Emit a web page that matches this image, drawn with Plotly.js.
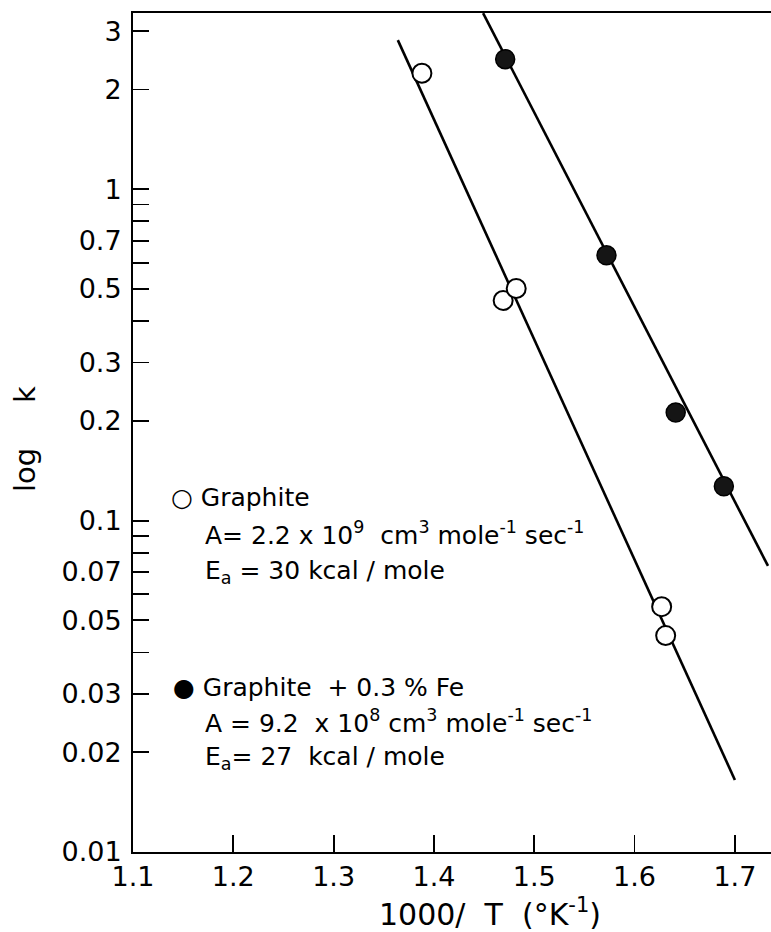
<!DOCTYPE html>
<html>
<head>
<meta charset="utf-8">
<script src="https://cdn.plot.ly/plotly-3.0.1.min.js"></script>
<style>html,body{margin:0;padding:0;background:#fff;}#chart{width:771px;height:932px;}</style>
</head>
<body>
<div id="chart"></div>
<script>
// Graphite (open circles)
const graphiteX = [1.388, 1.469, 1.482, 1.627, 1.631];
const graphiteK = [2.24, 0.462, 0.502, 0.055, 0.045];
// Graphite + 0.3% Fe (filled circles)
const feX = [1.471, 1.572, 1.641, 1.689];
const feK = [2.47, 0.632, 0.212, 0.127];
// Fitted lines (end points)
const graphiteLineX = [1.364, 1.700];
const graphiteLineK = [2.82, 0.0165];
const feLineX = [1.449, 1.733];
const feLineK = [3.40, 0.073];
// Axis ticks
const xTickVals = [1.1, 1.2, 1.3, 1.4, 1.5, 1.6, 1.7];
const xTickText = ['1.1', '1.2', '1.3', '1.4', '1.5', '1.6', '1.7'];
const yTickVals = [3, 2, 1, 0.7, 0.5, 0.3, 0.2, 0.1, 0.07, 0.05, 0.03, 0.02, 0.01];
const yTickText = ['3', '2', '1', '0.7', '0.5', '0.3', '0.2', '0.1', '0.07', '0.05', '0.03', '0.02', '0.01'];
const yMinorVals = [0.9, 0.8, 0.6, 0.4, 0.09, 0.08, 0.06, 0.04];

const FONT = 'DejaVu Sans, sans-serif';

const traces = [
  {x: graphiteLineX, y: graphiteLineK, mode: 'lines', line: {color: '#000', width: 2.6}, hoverinfo: 'skip', showlegend: false},
  {x: feLineX, y: feLineK, mode: 'lines', line: {color: '#000', width: 2.6}, hoverinfo: 'skip', showlegend: false},
  {x: graphiteX, y: graphiteK, mode: 'markers', marker: {symbol: 'circle', size: 19, color: '#fff', line: {color: '#000', width: 2}}, showlegend: false},
  {x: feX, y: feK, mode: 'markers', marker: {symbol: 'circle', size: 19, color: '#151515', line: {color: '#000', width: 1.5}}, showlegend: false}
];

const W = 771, H = 932, L = 133, T = 13, B = 80, R = 0;
const pw = W - L - R, ph = H - T - B;
function px(x) { return (x - L) / pw; }
function py(y) { return (H - B - y) / ph; }

function note(text, x, y, size, extra) {
  return Object.assign({text: text, xref: 'paper', yref: 'paper', x: px(x), y: py(y),
    xanchor: 'left', yanchor: 'middle', showarrow: false,
    font: {family: FONT, size: size, color: '#000'}}, extra || {});
}

const annotations = [
  note('○ Graphite', 169, 497, 25),
  note('A= 2.2 x 10<sup>9</sup>  cm<sup>3</sup> mole<sup>-1</sup> sec<sup>-1</sup>', 203, 533, 25),
  note('E<sub>a</sub> = 30 kcal / mole', 203, 572, 25),
  note('● Graphite  + 0.3 % Fe', 171, 687, 25),
  note('A = 9.2  x 10<sup>8</sup> cm<sup>3</sup> mole<sup>-1</sup> sec<sup>-1</sup>', 203, 721, 25),
  note('E<sub>a</sub>= 27  kcal / mole', 203, 758, 25),
  note('log', 25, 470, 29, {textangle: -90, xanchor: 'center'}),
  note('k', 25, 395, 29, {textangle: -90, xanchor: 'center'}),
  note('1000/&nbsp;&nbsp;T&nbsp;&nbsp;(°K<sup>-1</sup>)', 490, 912, 30, {xanchor: 'center'})
];

const layout = {
  width: W, height: H,
  margin: {l: L, r: R, t: T, b: B, pad: 0},
  paper_bgcolor: '#fff', plot_bgcolor: '#fff',
  showlegend: false,
  xaxis: {
    range: [1.1, 1.736], showgrid: false, zeroline: false,
    showline: true, linecolor: '#000', linewidth: 2, mirror: true,
    ticks: 'inside', ticklen: 17, tickwidth: 1.8, tickcolor: '#000',
    tickvals: xTickVals, ticktext: xTickText,
    tickfont: {family: FONT, size: 27, color: '#000'}
  },
  yaxis: {
    type: 'log', range: [-2, 0.532], showgrid: false, zeroline: false,
    showline: true, linecolor: '#000', linewidth: 2, mirror: false,
    ticks: 'inside', ticklen: 16, tickwidth: 1.8, tickcolor: '#000',
    tickvals: yTickVals, ticktext: yTickText,
    tickfont: {family: FONT, size: 27, color: '#000'},
    ticklabelstandoff: 4,
    minor: {tickvals: yMinorVals, ticks: 'inside', ticklen: 16, tickwidth: 1.8, tickcolor: '#000', showgrid: false}
  },
  annotations: annotations
};

Plotly.newPlot('chart', traces, layout, {staticPlot: true});
</script>
</body>
</html>
